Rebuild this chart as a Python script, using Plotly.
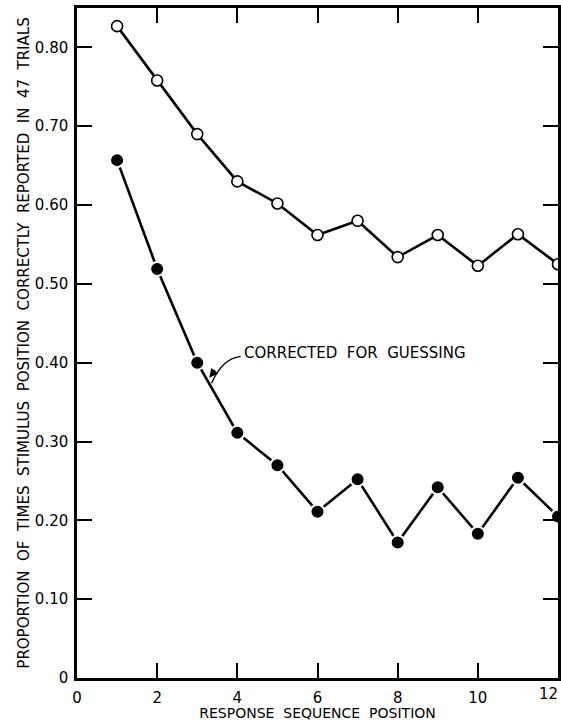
import plotly.graph_objects as go

# Response sequence positions
positions = [1, 2, 3, 4, 5, 6, 7, 8, 9, 10, 11, 12]

# Proportion correct, raw (open circles)
raw_proportion = [0.827, 0.758, 0.690, 0.630, 0.602, 0.562, 0.580, 0.534, 0.562, 0.523, 0.563, 0.525]

# Proportion correct, corrected for guessing (filled circles)
corrected_proportion = [0.657, 0.519, 0.400, 0.311, 0.270, 0.211, 0.252, 0.172, 0.242, 0.183, 0.254, 0.205]

x_tickvals = [0, 2, 4, 6, 8, 10]
x_ticktext = ["0", "2", "4", "6", "8", "10"]
x_last_tick = 12
x_last_label = "12"
y_tickvals = [0, 0.1, 0.2, 0.3, 0.4, 0.5, 0.6, 0.7, 0.8]
y_ticktext = ["0", "0.10", "0.20", "0.30", "0.40", "0.50", "0.60", "0.70", "0.80"]

FONT = "DejaVu Sans"

fig = go.Figure()

fig.add_trace(go.Scatter(
    x=positions, y=raw_proportion, mode="lines+markers",
    line=dict(color="black", width=2.6),
    marker=dict(symbol="circle", size=11, color="white",
                line=dict(color="black", width=1.6)),
    cliponaxis=False, showlegend=False,
))

fig.add_trace(go.Scatter(
    x=positions, y=corrected_proportion, mode="lines+markers",
    line=dict(color="black", width=2.6),
    marker=dict(symbol="circle", size=14, color="black",
                line=dict(color="white", width=2)),
    cliponaxis=False, showlegend=False,
))

# Curved leader from the label down to the corrected curve
fig.add_shape(
    type="path", xref="x", yref="y",
    path="M 4.08 0.408 Q 3.62 0.405 3.36 0.374",
    line=dict(color="black", width=1.4),
)
fig.add_annotation(
    x=3.30, y=0.381, xref="x", yref="y", text="",
    showarrow=True, arrowhead=2, arrowsize=1.1, arrowwidth=1.6,
    arrowcolor="black", ax=7, ay=-9, axref="pixel", ayref="pixel",
)
fig.add_annotation(
    x=4.12, y=0.412, xref="x", yref="y", text="CORRECTED  FOR  GUESSING",
    showarrow=False, xanchor="left", yanchor="middle",
    font=dict(family=FONT, size=15, color="black"),
)

# Last x tick label, right-aligned so it stays inside the page edge
fig.add_annotation(
    x=x_last_tick, y=0, xref="x", yref="y", text=x_last_label,
    showarrow=False, xanchor="right", yanchor="top", xshift=2, yshift=-5,
    font=dict(family=FONT, size=15, color="black"),
)

axis_common = dict(
    showline=True, linecolor="black", linewidth=2.5, mirror="ticks",
    ticks="inside", ticklen=15, tickwidth=1.5, tickcolor="black",
    showgrid=False, zeroline=False, automargin=False,
    ticklabeloverflow="allow",
    tickfont=dict(family=FONT, size=15, color="black"),
)

fig.update_xaxes(
    range=[0, 12], tickvals=x_tickvals, ticktext=x_ticktext,
    ticklabelstandoff=4,
    title=dict(text="RESPONSE  SEQUENCE  POSITION",
               font=dict(family=FONT, size=14, color="black"), standoff=4),
    **axis_common,
)
fig.update_yaxes(
    range=[0, 0.85], tickvals=y_tickvals, ticktext=y_ticktext,
    ticklabelstandoff=3,
    title=dict(text="PROPORTION  OF  TIMES  STIMULUS  POSITION  CORRECTLY  REPORTED  IN  47  TRIALS",
               font=dict(family=FONT, size=15, color="black"), standoff=2),
    **axis_common,
)

fig.update_layout(
    width=561, height=721,
    margin=dict(l=77, r=3, t=8, b=43),
    paper_bgcolor="white", plot_bgcolor="white",
)

fig.write_html("out.html")
